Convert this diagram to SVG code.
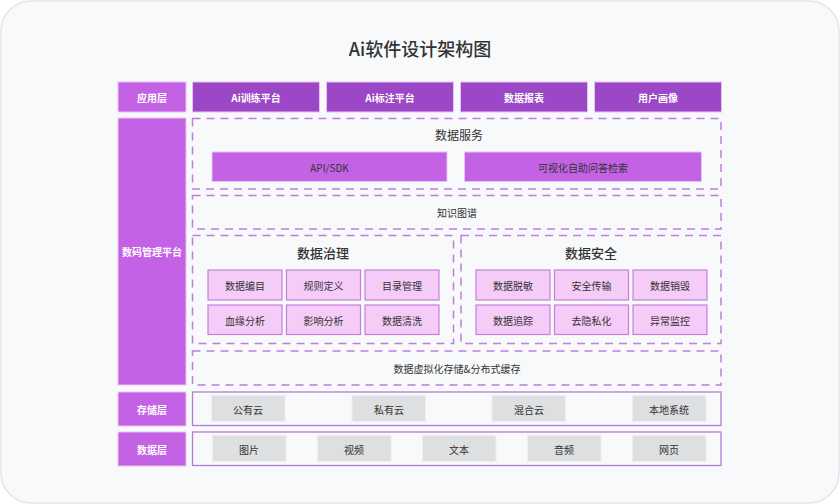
<svg xmlns="http://www.w3.org/2000/svg" width="840" height="504" viewBox="0 0 840 504">
<style>
text{font-family:"Noto Sans CJK SC","Noto Sans",sans-serif;text-anchor:middle;dominant-baseline:central;fill:#333;font-size:10px}
.lbl{fill:#c462e6;stroke:#e6c3f3;stroke-width:1}
.lt{fill:#fff;font-weight:600}
.app{fill:#9b47c6;stroke:#e6c3f3;stroke-width:1}
.svc{fill:#c462e6;stroke:#e6c3f3;stroke-width:1}
.dash{fill:none;stroke:#c27ce0;stroke-width:1.5;stroke-dasharray:8 6}
.cell{fill:#f5cbf8;stroke:#c77ee0;stroke-width:1.2}
.gray{fill:#dedfe1;stroke:#eceef0;stroke-width:1}
.cont{fill:none;stroke:#b57ad8;stroke-width:1.3}
.h{font-size:13px;font-weight:500}
</style>
<rect x="0" y="0" width="840" height="504" fill="#fff"/>
<rect x="1" y="1" width="838" height="502" rx="30" fill="#f8f9fa" stroke="#e3e5e8" stroke-width="1.5"/>
<text x="420" y="48" style="font-size:18px;font-weight:500">Ai软件设计架构图</text>

<g id="app-layer">
<rect class="lbl" x="118" y="82" width="68" height="30"/><text class="lt" x="152" y="97">应用层</text>
<rect class="app" x="192.5" y="82" width="127" height="30"/><text class="lt" x="256" y="97">Ai训练平台</text>
<rect class="app" x="326.5" y="82" width="127" height="30"/><text class="lt" x="390" y="97">Ai标注平台</text>
<rect class="app" x="460.5" y="82" width="127" height="30"/><text class="lt" x="524" y="97">数据报表</text>
<rect class="app" x="594.5" y="82" width="127" height="30"/><text class="lt" x="658" y="97">用户画像</text>
</g>

<g id="data-platform">
<rect class="lbl" x="118" y="118" width="68" height="267"/><text class="lt" x="152" y="251">数码管理平台</text>
</g>

<g id="data-service">
<rect class="dash" x="192.5" y="118.5" width="528.5" height="70.5"/>
<text x="459" y="134" style="font-size:12px">数据服务</text>
<rect class="svc" x="212" y="152" width="235" height="29.5"/><text x="329.5" y="167">API/SDK</text>
<rect class="svc" x="464.5" y="152" width="237" height="29.5"/><text x="583" y="167">可视化自助问答检索</text>
</g>

<g id="knowledge-graph">
<rect class="dash" x="192.5" y="195.5" width="528.5" height="33.5"/>
<text x="457" y="212">知识图谱</text>
</g>

<g id="governance">
<rect class="dash" x="192.5" y="235.5" width="261" height="108"/>
<text class="h" x="323" y="252">数据治理</text>
<rect class="cell" x="208" y="270" width="74" height="30"/><text x="245" y="285">数据编目</text>
<rect class="cell" x="286.5" y="270" width="74" height="30"/><text x="323.5" y="285">规则定义</text>
<rect class="cell" x="365" y="270" width="74" height="30"/><text x="402" y="285">目录管理</text>
<rect class="cell" x="208" y="305" width="74" height="29.5"/><text x="245" y="320">血缘分析</text>
<rect class="cell" x="286.5" y="305" width="74" height="29.5"/><text x="323.5" y="320">影响分析</text>
<rect class="cell" x="365" y="305" width="74" height="29.5"/><text x="402" y="320">数据清洗</text>
</g>

<g id="security">
<rect class="dash" x="461" y="235.5" width="260" height="108"/>
<text class="h" x="591" y="252">数据安全</text>
<rect class="cell" x="476" y="270" width="74" height="30"/><text x="513" y="285">数据脱敏</text>
<rect class="cell" x="554.5" y="270" width="74" height="30"/><text x="591.5" y="285">安全传输</text>
<rect class="cell" x="633" y="270" width="74" height="30"/><text x="670" y="285">数据销毁</text>
<rect class="cell" x="476" y="305" width="74" height="29.5"/><text x="513" y="320">数据追踪</text>
<rect class="cell" x="554.5" y="305" width="74" height="29.5"/><text x="591.5" y="320">去隐私化</text>
<rect class="cell" x="633" y="305" width="74" height="29.5"/><text x="670" y="320">异常监控</text>
</g>

<g id="virtualization">
<rect class="dash" x="192.5" y="351" width="528.5" height="34"/>
<text x="457" y="368">数据虚拟化存储&amp;分布式缓存</text>
</g>

<g id="storage-layer">
<rect class="lbl" x="118" y="392" width="68" height="34"/><text class="lt" x="152" y="409">存储层</text>
<rect class="cont" x="192.5" y="392" width="528.5" height="33.5"/>
<rect class="gray" x="211.5" y="395.5" width="73.5" height="26"/><text x="248" y="409">公有云</text>
<rect class="gray" x="352" y="395.5" width="73.5" height="26"/><text x="389" y="409">私有云</text>
<rect class="gray" x="492" y="395.5" width="73.5" height="26"/><text x="529" y="409">混合云</text>
<rect class="gray" x="632.5" y="395.5" width="73.5" height="26"/><text x="669" y="409">本地系统</text>
</g>

<g id="data-layer">
<rect class="lbl" x="118" y="432" width="68" height="34"/><text class="lt" x="152" y="449">数据层</text>
<rect class="cont" x="192.5" y="432" width="528.5" height="33.5"/>
<rect class="gray" x="212.5" y="435.5" width="73.5" height="26"/><text x="249" y="449">图片</text>
<rect class="gray" x="317.5" y="435.5" width="73.5" height="26"/><text x="354" y="449">视频</text>
<rect class="gray" x="422.5" y="435.5" width="73.5" height="26"/><text x="459" y="449">文本</text>
<rect class="gray" x="527.5" y="435.5" width="73.5" height="26"/><text x="564" y="449">音频</text>
<rect class="gray" x="632.5" y="435.5" width="73.5" height="26"/><text x="669" y="449">网页</text>
</g>

<g id="connectors"></g>
</svg>
